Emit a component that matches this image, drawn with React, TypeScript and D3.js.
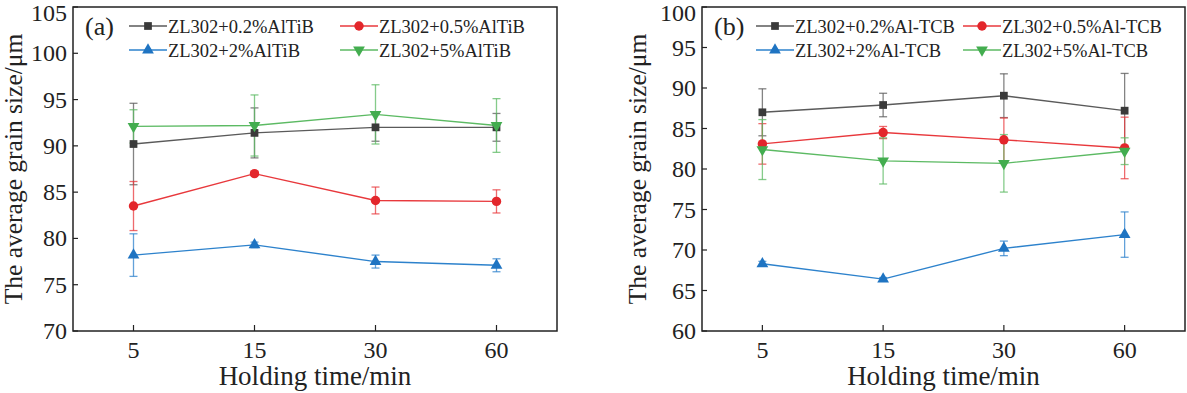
import React from 'react';
import * as d3 from 'd3';

const times = ["5", "15", "30", "60"];

// panel (a) AlTiB
const aNames = ["ZL302+0.2%AlTiB", "ZL302+0.5%AlTiB", "ZL302+2%AlTiB", "ZL302+5%AlTiB"];
const a02 = [90.2, 91.4, 92.0, 92.0];
const a02Err = [4.4, 2.7, 1.5, 1.5];
const a05 = [83.5, 87.0, 84.1, 84.0];
const a05Err = [2.65, 0.2, 1.45, 1.25];
const a2 = [78.2, 79.3, 77.5, 77.1];
const a2Err = [2.3, 0.3, 0.7, 0.7];
const a5 = [92.1, 92.2, 93.4, 92.2];
const a5Err = [1.8, 3.3, 3.2, 2.9];
const aTicks = [70, 75, 80, 85, 90, 95, 100, 105];

// panel (b) Al-TCB
const bNames = ["ZL302+0.2%Al-TCB", "ZL302+0.5%Al-TCB", "ZL302+2%Al-TCB", "ZL302+5%Al-TCB"];
const b02 = [87.0, 87.9, 89.05, 87.2];
const b02Err = [2.9, 1.45, 2.7, 4.6];
const b05 = [83.1, 84.5, 83.6, 82.6];
const b05Err = [2.5, 0.75, 2.7, 3.8];
const b2 = [68.3, 66.4, 70.2, 71.9];
const b2Err = [0.3, 0.2, 0.9, 2.8];
const b5 = [82.4, 81.0, 80.7, 82.2];
const b5Err = [3.7, 2.85, 3.55, 1.65];
const bTicks = [60, 65, 70, 75, 80, 85, 90, 95, 100];

const colors = ["#3a3a3a", "#e3262b", "#1f74c2", "#43ad4f"];
const lineColors = ["#5a5a5a", "#e8383c", "#2d82cc", "#5cba63"];
const shapes = [d3.symbolSquare, d3.symbolCircle, d3.symbolTriangle, d3.symbolTriangle];
const rotations = [0, 0, 0, 180];
const FONT = "'Liberation Serif', 'Times New Roman', serif";

const Marker = ({ i, x, y }: { i: number; x: number; y: number }) => {
  const size = i === 1 ? 70 : 60;
  return (
    <path
      d={d3.symbol(shapes[i], size)() || ''}
      transform={`translate(${x},${y}) rotate(${rotations[i]})`}
      fill={colors[i]}
    />
  );
};

type PanelProps = {
  left: number;
  right: number;
  top: number;
  bottom: number;
  yMin: number;
  yMax: number;
  ticks: number[];
  label: string;
  names: string[];
  values: number[][];
  errors: number[][];
  titleX: number;
  legendX: number[];
};

const Panel = (p: PanelProps) => {
  const x = d3.scalePoint<string>().domain(times).range([p.left, p.right]).padding(0.5);
  const y = d3.scaleLinear().domain([p.yMin, p.yMax]).range([p.bottom, p.top]);
  const line = d3.line<number>().x((_, j) => x(times[j]) as number).y((v) => y(v));
  const midY = (p.top + p.bottom) / 2;
  const midX = (p.left + p.right) / 2;
  const legendRows = [26, 50];

  return (
    <g fontFamily={FONT} fill="#222">
      {/* error bars */}
      {p.values.map((vals, i) => (
        <g key={'e' + i} stroke={lineColors[i]} strokeOpacity={0.75} strokeWidth={1.3}>
          {vals.map((v, j) => {
            const cx = x(times[j]) as number;
            const e = p.errors[i][j];
            return (
              <g key={j}>
                <line x1={cx} x2={cx} y1={y(v - e)} y2={y(v + e)} />
                <line x1={cx - 4} x2={cx + 4} y1={y(v + e)} y2={y(v + e)} />
                <line x1={cx - 4} x2={cx + 4} y1={y(v - e)} y2={y(v - e)} />
              </g>
            );
          })}
        </g>
      ))}
      {/* lines */}
      {p.values.map((vals, i) => (
        <path key={'l' + i} d={line(vals) || ''} fill="none" stroke={lineColors[i]} strokeWidth={1.4} />
      ))}
      {/* markers */}
      {p.values.map((vals, i) => (
        <g key={'m' + i}>
          {vals.map((v, j) => (
            <Marker key={j} i={i} x={x(times[j]) as number} y={y(v)} />
          ))}
        </g>
      ))}
      {/* frame */}
      <rect x={p.left} y={p.top} width={p.right - p.left} height={p.bottom - p.top} fill="none" stroke="#222" strokeWidth={1.5} />
      {/* y ticks */}
      {p.ticks.map((t) => (
        <g key={'y' + t}>
          <line x1={p.left} x2={p.left + 5} y1={y(t)} y2={y(t)} stroke="#222" strokeWidth={1.2} />
          <text x={p.left - 6} y={Math.max(y(t) + 8, 21)} textAnchor="end" fontSize={24}>{t}</text>
        </g>
      ))}
      {/* x ticks */}
      {times.map((t) => (
        <g key={'x' + t}>
          <line x1={x(t) as number} x2={x(t) as number} y1={p.bottom} y2={p.bottom - 6} stroke="#222" strokeWidth={1.2} />
          <text x={x(t) as number} y={358} textAnchor="middle" fontSize={24}>{t}</text>
        </g>
      ))}
      <text x={midX} y={385} textAnchor="middle" fontSize={27}>Holding time/min</text>
      <text transform={`translate(${p.titleX},${midY}) rotate(-90)`} textAnchor="middle" fontSize={25.5}>
        The average grain size/μm
      </text>
      {/* legend */}
      <text x={p.left + 12} y={35} fontSize={26}>{p.label}</text>
      {p.names.map((n, i) => {
        const lx = p.legendX[i % 2];
        const ly = legendRows[Math.floor(i / 2)];
        return (
          <g key={'lg' + i}>
            <line x1={lx} x2={lx + 38} y1={ly} y2={ly} stroke={lineColors[i]} strokeWidth={1.4} />
            <Marker i={i} x={lx + 19} y={ly} />
            <text x={lx + 39} y={ly + 6.5} fontSize={18.5}>{n}</text>
          </g>
        );
      })}
    </g>
  );
};

export default function App() {
  return (
    <svg
      width={1187}
      height={393}
      style={{ display: 'block', background: '#fff', position: 'absolute', left: 0, top: 0 }}
    >
      <Panel
        left={73}
        right={557}
        top={7}
        bottom={331}
        yMin={70}
        yMax={105}
        ticks={aTicks}
        label="(a)"
        names={aNames}
        values={[a02, a05, a2, a5]}
        errors={[a02Err, a05Err, a2Err, a5Err]}
        titleX={22}
        legendX={[129, 340]}
      />
      <Panel
        left={702}
        right={1185}
        top={7}
        bottom={331}
        yMin={60}
        yMax={100}
        ticks={bTicks}
        label="(b)"
        names={bNames}
        values={[b02, b05, b2, b5]}
        errors={[b02Err, b05Err, b2Err, b5Err]}
        titleX={646}
        legendX={[756, 963]}
      />
    </svg>
  );
}
